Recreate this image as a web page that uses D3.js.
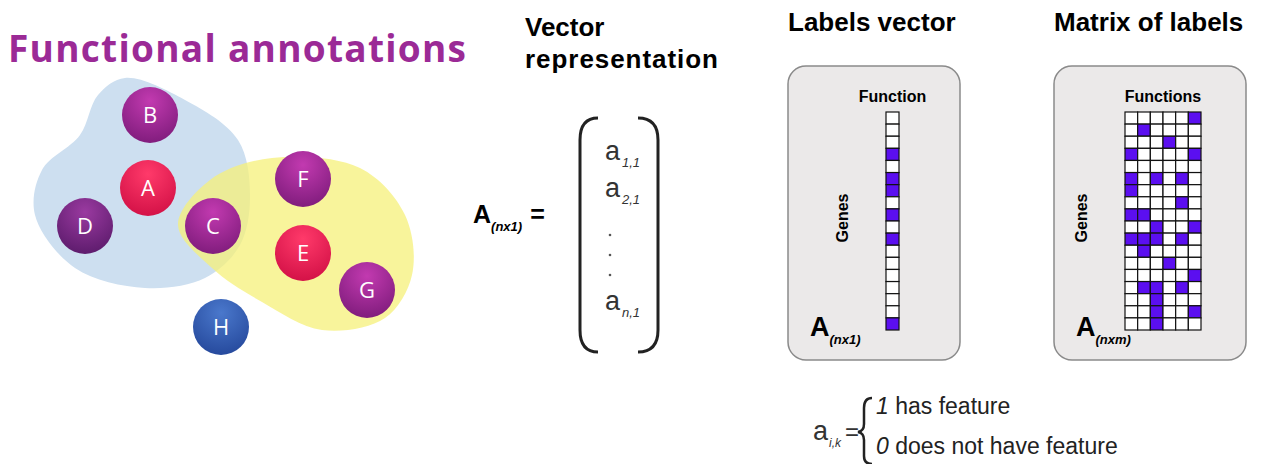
<!DOCTYPE html>
<html><head><meta charset="utf-8">
<script src="https://cdn.jsdelivr.net/npm/d3@7"></script>
<style>body{margin:0;background:#fff}svg{display:block;font-family:"Liberation Sans",Arial,sans-serif}</style>
</head><body><svg width="1262" height="464"></svg>
<script>
const nodeNames = ["B","A","D","C","F","E","G","H"];
const nodeX = [150,148,85,213,303,303,367,221];
const nodeY = [115,188,226,226,179,253,290,327];
const nodeKind = ["p","r","d","p","p","r","p","b"];
const vectorLabels = [0,0,0,1,0,1,1,0,1,0,1,0,0,0,0,0,0,1];
const matrixLabels = ["000001","010000","000100","100001","000000","101010","100000","000010","110000",
  "001001","111010","010000","000100","000001","011010","001000","001001","001000"];
const vectorEntries = [["a","1,1"],["a","2,1"],["a","n,1"]];

const svg = d3.select("svg");
const defs = svg.append("defs");
const kinds = {p:["#c23ab0","#7d1b7a"], r:["#ff3a6a","#d10f45"], d:["#9a3aa0","#5a1a6a"], b:["#4a78cc","#24479a"]};
Object.entries(kinds).forEach(([k,c]) => {
  const g = defs.append("radialGradient").attr("id","g"+k).attr("cx","50%").attr("cy","25%").attr("r","80%");
  g.append("stop").attr("offset","0%").attr("stop-color",c[0]);
  g.append("stop").attr("offset","100%").attr("stop-color",c[1]);
});

svg.append("text").attr("x",8).attr("y",62).attr("fill","#9b2a96").attr("font-family","Open Sans, sans-serif")
  .attr("font-weight","bold").attr("font-size",37).attr("textLength",458).text("Functional annotations");

const blob = d3.line().curve(d3.curveCatmullRomClosed);
svg.append("path").attr("fill","#cddff0")
  .attr("d", blob([[125,78],[185,100],[238,140],[250,195],[240,245],[205,278],[145,288],[75,268],[35,215],[42,170],[80,135],[98,95]]));
svg.append("path").attr("fill","#f6f07a").attr("opacity",0.75)
  .attr("d", blob([[178,225],[210,180],[272,158],[360,168],[405,215],[412,275],[385,318],[322,330],[262,302],[212,268]]));

const nodes = svg.selectAll("g.node").data(nodeNames).join("g").attr("class","node")
  .attr("transform",(d,i)=>`translate(${nodeX[i]},${nodeY[i]})`);
nodes.append("circle").attr("r",28).attr("fill",(d,i)=>`url(#g${nodeKind[i]})`);
nodes.append("text").attr("text-anchor","middle").attr("dy",8).attr("fill","#fff")
  .attr("font-family","Open Sans, sans-serif").attr("font-size",22).text(d=>d);

// vector representation
svg.append("text").attr("x",525).attr("y",36).attr("font-weight","bold").attr("font-size",26).text("Vector");
svg.append("text").attr("x",525).attr("y",68).attr("font-weight","bold").attr("font-size",26).attr("textLength",193).text("representation");
const eq = svg.append("text").attr("x",473).attr("y",223).attr("font-weight","bold").attr("font-size",25);
eq.append("tspan").text("A");
eq.append("tspan").attr("font-size",13).attr("font-style","italic").attr("dy",8).text("(nx1)");
eq.append("tspan").attr("dy",-8).attr("dx",8).text("=");
svg.append("path").attr("fill","none").attr("stroke","#222").attr("stroke-width",3)
  .attr("d","M598,118 Q580,118 580,140 L580,330 Q580,352 598,352");
svg.append("path").attr("fill","none").attr("stroke","#222").attr("stroke-width",3)
  .attr("d","M638,118 Q658,118 658,140 L658,330 Q658,352 638,352");
const yv = [160,197,310];
vectorEntries.forEach((e,i) => {
  const t = svg.append("text").attr("x",605).attr("y",yv[i]).attr("font-size",27).attr("fill","#333");
  t.append("tspan").text(e[0]);
  t.append("tspan").attr("font-size",13).attr("font-style","italic").attr("dy",7).attr("dx",2).text(e[1]);
});
[235,255,275].forEach(y => svg.append("circle").attr("cx",610).attr("cy",y).attr("r",1.3).attr("fill","#555"));

// panels
function panel(x0, title, sub, cols, rows, gridX, sub2, gridW) {
  svg.append("text").attr("x",x0).attr("y",31).attr("font-weight","bold").attr("font-size",26).text(title);
  svg.append("rect").attr("x",x0).attr("y",66).attr("width",x0>1000?192:172).attr("height",294).attr("rx",18)
    .attr("fill","#ebe9e9").attr("stroke","#8a8a8a").attr("stroke-width",1.5);
  svg.append("text").attr("x",gridX+gridW/2).attr("y",102).attr("text-anchor","middle").attr("font-weight","bold").attr("font-size",16).text(sub);
  svg.append("text").attr("transform",`translate(${gridX-38},218) rotate(-90)`).attr("text-anchor","middle")
    .attr("font-weight","bold").attr("font-size",16).text("Genes");
  const a = svg.append("text").attr("x",x0+22).attr("y",336).attr("font-weight","bold").attr("font-size",27);
  a.append("tspan").text("A");
  a.append("tspan").attr("font-size",13).attr("font-style","italic").attr("dy",8).text(sub2);
  const x = d3.scaleBand().domain(d3.range(cols)).range([gridX,gridX+gridW]);
  const y = d3.scaleBand().domain(d3.range(rows.length)).range([112,330]);
  rows.forEach((r,ri) => {
    svg.selectAll(null).data(r).join("rect").attr("x",(d,ci)=>x(ci)).attr("y",y(ri))
      .attr("width",x.bandwidth()).attr("height",y.bandwidth())
      .attr("fill",d=>d===1?"#5b0ff0":"#fff").attr("stroke","#111").attr("stroke-width",1.2);
  });
}
panel(788,"Labels vector","Function",1,vectorLabels.map(v=>[v]),886,"(nx1)",13);
panel(1054,"Matrix of labels","Functions",6,matrixLabels.map(s=>s.split("").map(Number)),1125,"(nxm)",76);

// definition
const def = svg.append("text").attr("x",813).attr("y",440).attr("font-size",27).attr("fill","#333");
def.append("tspan").text("a");
def.append("tspan").attr("font-size",12).attr("font-style","italic").attr("dy",7).attr("dx",1).text("i,k");
def.append("tspan").attr("dy",-7).attr("dx",4).attr("font-size",24).text("=");
svg.append("path").attr("fill","none").attr("stroke","#222").attr("stroke-width",2.5)
  .attr("d","M872,398 Q864,398 864,408 L864,424 Q864,431 858,432 Q864,433 864,440 L864,456 Q864,464 872,464");
[["1"," has feature",414],["0"," does not have feature",454]].forEach(([n,t,y]) => {
  const tt = svg.append("text").attr("x",876).attr("y",y).attr("font-size",23).attr("fill","#222");
  tt.append("tspan").attr("font-style","italic").text(n);
  tt.append("tspan").text(t);
});
</script></body></html>
